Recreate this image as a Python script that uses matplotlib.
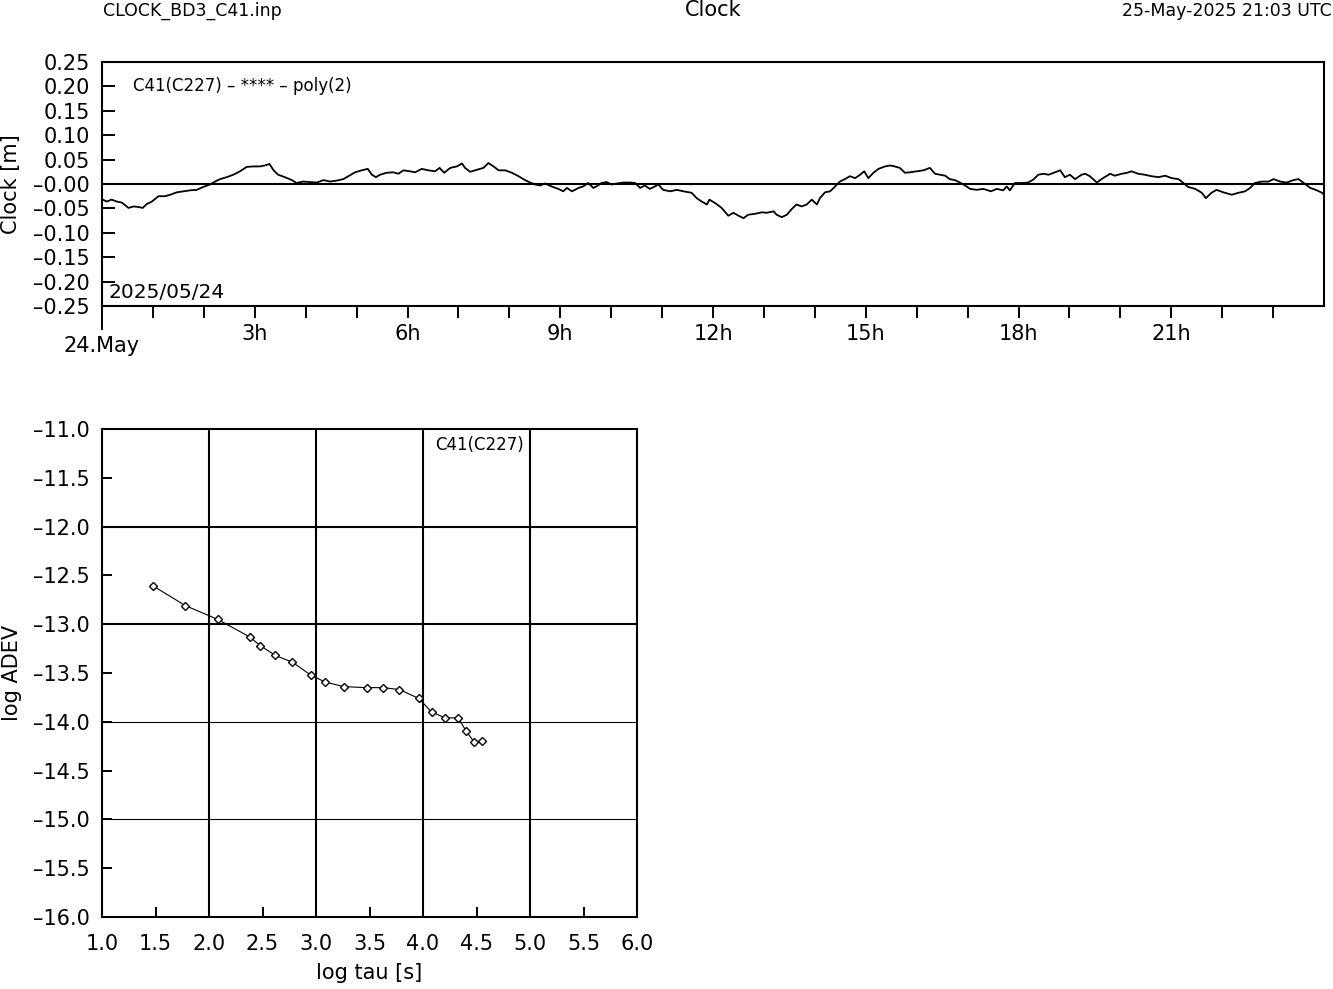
# ----------------------------------------------------------------------
# Clock residuals and Allan deviation for C41(C227)
# ----------------------------------------------------------------------

import matplotlib
matplotlib.use("Agg")
import matplotlib.pyplot as plt
import matplotlib.transforms as mtransforms

# ----------------------------------------------------------------------
# Data
# ----------------------------------------------------------------------

clock_hours = [
    0.00, 0.09, 0.19, 0.29, 0.39, 0.52, 0.62, 0.71, 0.80, 0.88, 0.98, 1.11,
    1.24, 1.34, 1.47, 1.60, 1.73, 1.86, 1.99, 2.12, 2.22, 2.32, 2.45, 2.58,
    2.71, 2.84, 2.97, 3.10, 3.20, 3.29, 3.37, 3.46, 3.59, 3.73, 3.82, 3.95,
    4.09, 4.22, 4.35, 4.48, 4.61, 4.74, 4.84,
    4.97, 5.10, 5.22, 5.30, 5.38, 5.46, 5.59, 5.72, 5.82, 5.92, 6.05, 6.15,
    6.28, 6.41, 6.54, 6.63, 6.72, 6.84, 6.97, 7.07, 7.13, 7.23, 7.36, 7.49,
    7.59, 7.69, 7.79, 7.92, 8.05, 8.18, 8.31, 8.41, 8.51, 8.60, 8.70, 8.83,
    8.96, 9.06, 9.13, 9.23, 9.36, 9.45, 9.55,
    9.65, 9.71, 9.81, 9.91, 10.01, 10.11, 10.24, 10.37, 10.47, 10.57, 10.66,
    10.76, 10.86, 10.93, 11.02, 11.16, 11.29, 11.42, 11.58, 11.68, 11.78,
    11.88, 11.93, 12.04, 12.17, 12.30, 12.40, 12.50, 12.60, 12.69, 12.83,
    12.96, 13.05, 13.19, 13.25, 13.35, 13.45, 13.55, 13.64, 13.74, 13.84,
    13.94, 14.04, 14.10, 14.20, 14.30, 14.40,
    14.49, 14.59, 14.69, 14.79, 14.89, 14.97, 15.05, 15.15, 15.25, 15.38,
    15.48, 15.57, 15.67, 15.77, 15.87, 16.00, 16.13, 16.26, 16.36, 16.46,
    16.56, 16.65, 16.75, 16.85, 16.95, 17.05, 17.18, 17.31, 17.46, 17.57,
    17.70, 17.77, 17.83, 17.93, 18.06, 18.19, 18.29, 18.39, 18.49, 18.59,
    18.69, 18.82, 18.91, 19.01, 19.11, 19.24,
    19.31, 19.40, 19.54, 19.63, 19.80, 19.89, 20.03, 20.13, 20.22, 20.35,
    20.48, 20.61, 20.75, 20.88, 21.01, 21.14, 21.24, 21.33, 21.47, 21.60,
    21.68, 21.79, 21.89, 22.02, 22.19, 22.32, 22.45, 22.55, 22.64, 22.78,
    22.91, 23.01, 23.14, 23.27, 23.40, 23.50, 23.59, 23.73, 23.86, 23.96,
    24.00,
]

clock_m = [
    -0.031, -0.036, -0.032, -0.036, -0.038, -0.049, -0.046, -0.047, -0.049,
    -0.041, -0.036, -0.025, -0.025, -0.022, -0.017, -0.015, -0.013, -0.012,
    -0.006, -0.001, 0.005, 0.010, 0.014, 0.019, 0.026, 0.035, 0.036, 0.036,
    0.038, 0.041, 0.028, 0.019, 0.014, 0.008, 0.002, 0.005, 0.004, 0.003,
    0.008, 0.005, 0.007, 0.010, 0.016,
    0.024, 0.028, 0.031, 0.019, 0.014, 0.019, 0.023, 0.024, 0.021, 0.028,
    0.026, 0.024, 0.031, 0.028, 0.026, 0.033, 0.023, 0.033, 0.036, 0.042,
    0.033, 0.025, 0.029, 0.033, 0.043, 0.036, 0.028, 0.028, 0.023, 0.016,
    0.008, 0.003, -0.001, -0.003, 0.001, -0.005, -0.010, -0.015, -0.008,
    -0.015, -0.008, -0.005, 0.002,
    -0.008, -0.005, 0.002, 0.004, -0.001, 0.001, 0.003, 0.003, 0.002,
    -0.008, -0.003, -0.010, -0.005, -0.001, -0.012, -0.015, -0.012, -0.015,
    -0.018, -0.029, -0.036, -0.042, -0.032, -0.039, -0.049, -0.065, -0.059,
    -0.065, -0.070, -0.063, -0.061, -0.058, -0.059, -0.056, -0.063, -0.068,
    -0.063, -0.051, -0.042, -0.046, -0.042, -0.032, -0.042, -0.029, -0.017,
    -0.015, -0.005,
    0.005, 0.010, 0.016, 0.012, 0.019, 0.026, 0.012, 0.023, 0.031, 0.036,
    0.038, 0.036, 0.033, 0.023, 0.024, 0.026, 0.028, 0.033, 0.021, 0.019,
    0.017, 0.010, 0.008, 0.003, -0.003, -0.010, -0.012, -0.010, -0.015,
    -0.010, -0.013, -0.005, -0.013, 0.002, 0.002, 0.003, 0.009, 0.019,
    0.021, 0.019, 0.023, 0.028, 0.014, 0.019, 0.010, 0.019,
    0.021, 0.016, 0.003, 0.010, 0.021, 0.017, 0.021, 0.023, 0.026, 0.021,
    0.019, 0.016, 0.014, 0.017, 0.012, 0.010, 0.002, -0.006, -0.010, -0.018,
    -0.029, -0.018, -0.012, -0.017, -0.022, -0.018, -0.015, -0.008, 0.002,
    0.005, 0.005, 0.010, 0.005, 0.003, 0.008, 0.010, 0.003, -0.008, -0.013,
    -0.018, -0.022,
]

log_tau = [1.48, 1.78, 2.08, 2.38, 2.48, 2.62, 2.78, 2.95, 3.08, 3.26,
           3.48, 3.63, 3.78, 3.96, 4.08, 4.21, 4.33, 4.40, 4.48, 4.55]
log_adev = [-12.61, -12.81, -12.95, -13.13, -13.22, -13.32, -13.39, -13.52,
            -13.59, -13.64, -13.65, -13.65, -13.67, -13.76, -13.90, -13.96,
            -13.96, -14.09, -14.21, -14.20]

clock_yticks = [0.25, 0.20, 0.15, 0.10, 0.05, 0.00,
                -0.05, -0.10, -0.15, -0.20, -0.25]
clock_ylabels = ["0.25", "0.20", "0.15", "0.10", "0.05", "\u20130.00",
                 "\u20130.05", "\u20130.10", "\u20130.15", "\u20130.20", "\u20130.25"]
hour_ticks = list(range(0, 24))
hour_labels = ["%dh" % h if (h % 3 == 0 and h > 0) else "" for h in hour_ticks]

adev_xticks = [1.0, 1.5, 2.0, 2.5, 3.0, 3.5, 4.0, 4.5, 5.0, 5.5, 6.0]
adev_yticks = [-11.0, -11.5, -12.0, -12.5, -13.0, -13.5, -14.0,
               -14.5, -15.0, -15.5, -16.0]

# ----------------------------------------------------------------------
# Style
# ----------------------------------------------------------------------

plt.rcParams['font.family'] = ['DejaVu Sans']
plt.rcParams['axes.linewidth'] = 1.5

W, H = 1333, 989
fig = plt.figure(figsize=(W / 100, H / 100), dpi=100)


def px_axes(l, t, r, b):
    return fig.add_axes([l / W, 1 - b / H, (r - l) / W, (b - t) / H])


# ----------------------------------------------------------------------
# Top panel: clock residuals
# ----------------------------------------------------------------------

ax1 = px_axes(102, 62, 1324, 306)
ax1.plot(clock_hours, clock_m, color='black', lw=1.3)
ax1.axhline(0.0, color='black', lw=1.5)
ax1.set_xlim(0, 24)
ax1.set_ylim(-0.25, 0.25)

ax1.set_yticks(clock_yticks)
ax1.set_yticklabels(clock_ylabels, fontsize=15)
ax1.tick_params(axis='y', direction='in', length=9.4, width=1.4, pad=8.5,
                right=False)
ax1.set_xticks(hour_ticks)
ax1.set_xticklabels(hour_labels, fontsize=15)
ax1.tick_params(axis='x', direction='out', length=8.6, width=1.4, pad=4,
                top=False)
ax1.xaxis.get_major_ticks()[0].tick1line.set_markersize(17)

ax1.text(0.025, 0.9, "C41(C227) \u2013 **** \u2013 poly(2)", fontsize=12,
         transform=ax1.transAxes, ha='left', va='center')
ax1.text(0.005, 0.055, "2025/05/24", fontsize=14.5, transform=ax1.transAxes,
         ha='left', va='center')
trans = mtransforms.blended_transform_factory(ax1.transData, ax1.transAxes)
ax1.text(0, -0.165, "24.May", fontsize=15, transform=trans,
         ha='center', va='center')
fig.text(11 / W, 1 - 184 / H, "Clock [m]", fontsize=15, rotation=90,
         ha='center', va='center')

# Header line
fig.text(103 / W, 1 - 11 / H, "CLOCK_BD3_C41.inp", fontsize=12.5,
         ha='left', va='center')
fig.text(713 / W, 1 - 10 / H, "Clock", fontsize=15, ha='center', va='center')
fig.text(1332 / W, 1 - 11 / H, "25-May-2025 21:03 UTC", fontsize=12.5,
         ha='right', va='center')

# ----------------------------------------------------------------------
# Bottom panel: Allan deviation
# ----------------------------------------------------------------------

ax2 = px_axes(102, 429, 637, 917)
for xv in [2.0, 3.0, 4.0, 5.0]:
    ax2.axvline(xv, color='black', lw=1.5)
for yv in [-12.0, -13.0]:
    ax2.axhline(yv, color='black', lw=1.5)
for yv in [-14.0, -15.0]:
    ax2.axhline(yv, color='black', lw=0.8)

ax2.plot(log_tau, log_adev, color='black', lw=0.8, marker='D',
         markersize=4.4, markerfacecolor='white', markeredgecolor='black',
         markeredgewidth=1.0)
ax2.set_xlim(1.0, 6.0)
ax2.set_ylim(-16.0, -11.0)
ax2.set_xticks(adev_xticks)
ax2.set_xticklabels(["%.1f" % v for v in adev_xticks], fontsize=15)
ax2.set_yticks(adev_yticks)
ax2.set_yticklabels([("%.1f" % v).replace("-", "\u2013") for v in adev_yticks],
                    fontsize=15)
ax2.tick_params(direction='in', length=7.2, width=1.4, top=False, right=False)
ax2.tick_params(axis='x', pad=12)
ax2.tick_params(axis='y', pad=9)
ax2.set_xlabel("log tau [s]", fontsize=15, labelpad=7)
fig.text(12 / W, 1 - 673 / H, "log ADEV", fontsize=15, rotation=90,
         ha='center', va='center')

ax2.text(0.705, 0.985, "C41(C227)", fontsize=12, transform=ax2.transAxes,
         ha='center', va='top')

plt.savefig("out.png", dpi=100, facecolor='white')
